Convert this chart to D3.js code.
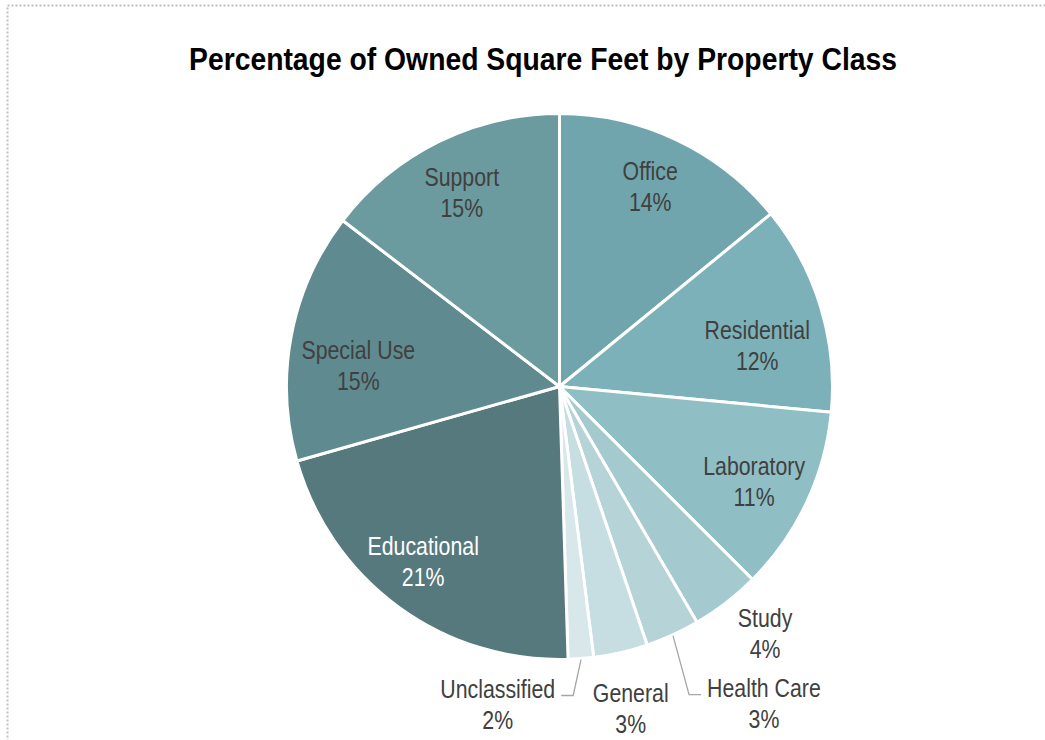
<!DOCTYPE html>
<html>
<head>
<meta charset="utf-8">
<script src="https://cdn.jsdelivr.net/npm/d3@7"></script>
<style>
  body { margin: 0; background: #fff; }
  text { font-family: "Liberation Sans", Arial, sans-serif; }
</style>
</head>
<body>
<div id="chart"></div>
<script>
// data
var categories = ["Office", "Residential", "Laboratory", "Study", "Health Care",
                  "General", "Unclassified", "Educational", "Special Use", "Support"];
var shares = [14.1, 12.4, 11.0, 4.1, 3.2, 3.2, 1.5, 21.1, 14.8, 14.6];
var sliceColors = ["#71a5ad", "#7db1b9", "#8fbec5", "#a4c9ce", "#b6d3d8",
                   "#c6dde1", "#d7e7ea", "#56797d", "#5f8a90", "#6b9a9f"];

// label layout: which labels sit outside, and hand nudges like Excel's best fit
var outside = ["Study", "Health Care", "General", "Unclassified"];
var leaders = ["Health Care", "Unclassified"];
var nudge = {
  "Office": [-1, -8], "Residential": [-7, 20], "Laboratory": [1, 3],
  "Educational": [-10, 1], "Special Use": [9, 18], "Support": [-3, -3],
  "Study": [9, -9], "Health Care": [71, 23], "General": [-1, 7], "Unclassified": [-87, -4]
};

var width = 1045, height = 740;
var cx = 559.5, cy = 386.5, radius = 273;
var fontSize = 26;
var narrow = 0.82;   // Arial squeezed to look like Arial Narrow

var svg = d3.select("#chart")
  .append("svg")
  .attr("width", width)
  .attr("height", height);

// dotted chart frame
svg.append("rect")
  .attr("x", 7.5)
  .attr("y", 5.5)
  .attr("width", 1100)
  .attr("height", 800)
  .attr("fill", "none")
  .attr("stroke", "#c0c0c0")
  .attr("stroke-width", 2)
  .attr("stroke-dasharray", "2,2");

svg.append("g")
  .attr("transform", "translate(543,70) scale(" + narrow + ",1)")
  .append("text")
  .attr("text-anchor", "middle")
  .attr("font-size", "31px")
  .attr("font-weight", "bold")
  .attr("fill", "#000")
  .attr("textLength", 708 / narrow)
  .attr("lengthAdjust", "spacingAndGlyphs")
  .text("Percentage of Owned Square Feet by Property Class");

var data = categories.map(function(c, i) { return {name: c, value: shares[i], color: sliceColors[i]}; });

var pie = d3.pie()
  .sort(null)
  .value(function(d) { return d.value; });

var arc = d3.arc()
  .innerRadius(0)
  .outerRadius(radius);

var g = svg.append("g")
  .attr("transform", "translate(" + cx + "," + cy + ")");

var arcs = pie(data);

g.selectAll("path.slice")
  .data(arcs)
  .enter()
  .append("path")
    .attr("class", "slice")
    .attr("d", arc)
    .attr("fill", function(d) { return d.data.color; })
    .attr("stroke", "#fff")
    .attr("stroke-width", 3)
    .attr("stroke-linejoin", "round");

function polar(r, a) { return [r * Math.sin(a), -r * Math.cos(a)]; }

arcs.forEach(function(d) {
  var name = d.data.name;
  var mid = (d.startAngle + d.endAngle) / 2;
  var isOut = outside.indexOf(name) >= 0;
  var p = polar(isOut ? 322 : 214, mid);
  var n = nudge[name] || [0, 0];
  var x = p[0] + n[0], y = p[1] + n[1];

  var label = g.append("g")
    .attr("transform", "translate(" + x + "," + y + ") scale(" + narrow + ",1)")
    .append("text")
    .attr("text-anchor", "middle")
    .attr("font-size", fontSize + "px")
    .attr("fill", name === "Educational" ? "#ffffff" : "#404040");
  label.append("tspan")
    .attr("x", 0)
    .attr("y", -15 + fontSize * 0.36)
    .text(name);
  label.append("tspan")
    .attr("x", 0)
    .attr("y", 16 + fontSize * 0.36)
    .text(Math.round(d.data.value) + "%");

  if (leaders.indexOf(name) >= 0) {
    var w = label.select("tspan").node().getComputedTextLength() * narrow;
    var side = n[0] > 0 ? -1 : 1;
    var edge = x + side * w / 2;
    var s = polar(radius + 1, mid);
    var ly = y - 8;
    g.append("polyline")
      .attr("points", [s, [edge + side * 18, ly], [edge + side * 6, ly]].map(function(q) { return q.join(","); }).join(" "))
      .attr("fill", "none")
      .attr("stroke", "#a6a6a6")
      .attr("stroke-width", 1.3);
  }
});
</script>
</body>
</html>
